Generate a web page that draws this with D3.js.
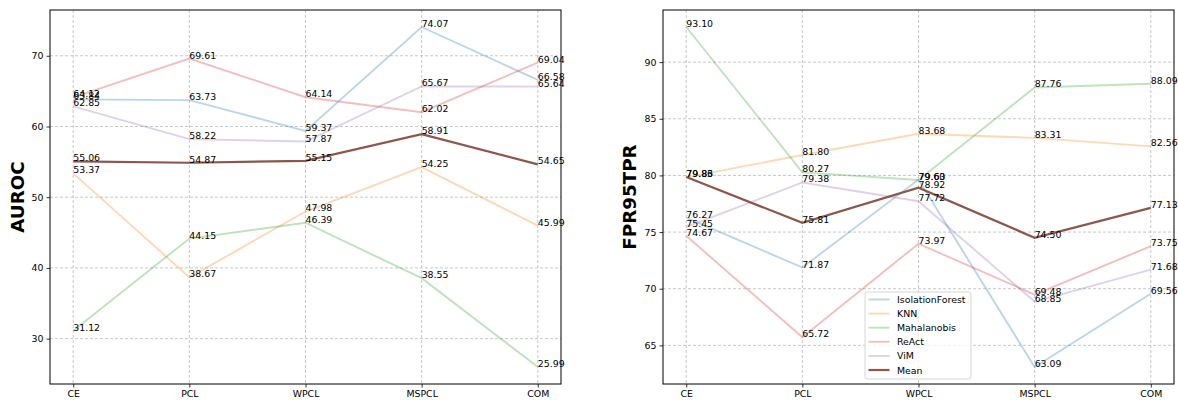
<!DOCTYPE html>
<html>
<head>
<meta charset="utf-8">
<script src="https://cdn.jsdelivr.net/npm/d3@7"></script>
<style>
  body { margin: 0; background: #fff; }
  svg { font-family: 'DejaVu Sans', sans-serif; }
</style>
</head>
<body>
<div id="chart"></div>
<script>
const methods = ['CE', 'PCL', 'WPCL', 'MSPCL', 'COM'];
const seriesNames = ['IsolationForest', 'KNN', 'Mahalanobis', 'ReAct', 'ViM', 'Mean'];
const colors = ['#1f77b4', '#ff7f0e', '#2ca02c', '#d62728', '#9467bd', '#8c564b'];

// AUROC
const aurocIsolationForest = [63.84, 63.73, 59.37, 74.07, 66.58];
const aurocKNN = [53.37, 38.67, 47.98, 54.25, 45.99];
const aurocMahalanobis = [31.12, 44.15, 46.39, 38.55, 25.99];
const aurocReAct = [64.12, 69.61, 64.14, 62.02, 69.04];
const aurocViM = [62.85, 58.22, 57.87, 65.67, 65.64];
const aurocMean = [55.06, 54.87, 55.15, 58.91, 54.65];
const aurocTicks = [30, 40, 50, 60, 70];

// FPR95TPR
const fprIsolationForest = [76.27, 71.87, 79.63, 63.09, 69.56];
const fprKNN = [79.83, 81.80, 83.68, 83.31, 82.56];
const fprMahalanobis = [93.10, 80.27, 79.60, 87.76, 88.09];
const fprReAct = [74.67, 65.72, 73.97, 69.48, 73.75];
const fprViM = [75.45, 79.38, 77.72, 68.85, 71.68];
const fprMean = [79.86, 75.81, 78.92, 74.50, 77.13];
const fprTicks = [65, 70, 75, 80, 85, 90];

const W = 1178, H = 400;
const svg = d3.select('#chart').append('svg').attr('width', W).attr('height', H);

const plotTop = 10, plotBottom = 384;

function panel(left, right, series, ticks, title, titleX, legend) {
  const all = series.flat();
  const lo = d3.min(all), hi = d3.max(all), pad = (hi - lo) * 0.05;
  const x = d3.scaleLinear().domain([-0.2, 4.2]).range([left, right]);
  const y = d3.scaleLinear().domain([lo - pad, hi + pad]).range([plotBottom, plotTop]);
  const g = svg.append('g');

  // grid
  g.selectAll('.gy').data(ticks).enter().append('line')
    .attr('x1', left).attr('x2', right)
    .attr('y1', d => y(d)).attr('y2', d => y(d))
    .attr('stroke', '#b0b0b0').attr('stroke-width', 0.7).attr('stroke-dasharray', '3,2');
  g.selectAll('.gx').data(methods).enter().append('line')
    .attr('x1', (d, i) => x(i)).attr('x2', (d, i) => x(i))
    .attr('y1', plotTop).attr('y2', plotBottom)
    .attr('stroke', '#b0b0b0').attr('stroke-width', 0.7).attr('stroke-dasharray', '3,2');

  // axes
  const ya = g.append('g').attr('transform', `translate(${left},0)`)
    .call(d3.axisLeft(y).tickValues(ticks).tickSize(3.5).tickPadding(3));
  const xa = g.append('g').attr('transform', `translate(0,${plotBottom})`)
    .call(d3.axisBottom(x).tickValues(d3.range(5)).tickFormat(i => methods[i]).tickSize(3.5).tickPadding(3));
  [ya, xa].forEach(a => {
    a.select('.domain').remove();
    a.selectAll('text').attr('font-size', 9.4).attr('fill', '#000').attr('font-family', 'DejaVu Sans');
    a.selectAll('line').attr('stroke', '#000').attr('stroke-width', 0.8);
  });

  // lines
  const line = d3.line().x((d, i) => x(i)).y(d => y(d));
  series.forEach((s, k) => {
    const mean = k === series.length - 1;
    g.append('path').datum(s).attr('d', line)
      .attr('fill', 'none').attr('stroke', colors[k])
      .attr('stroke-width', mean ? 2.2 : 1.9)
      .attr('stroke-opacity', mean ? 1 : 0.3);
  });
  // value labels
  series.forEach(s => {
    g.selectAll(null).data(s).enter().append('text')
      .attr('x', (d, i) => x(i)).attr('y', d => y(d))
      .attr('font-size', 9.4).attr('fill', '#000')
      .text(d => d.toFixed(2));
  });

  // frame
  g.append('rect').attr('x', left).attr('y', plotTop)
    .attr('width', right - left).attr('height', plotBottom - plotTop)
    .attr('fill', 'none').attr('stroke', '#000').attr('stroke-width', 1);

  // y title
  g.append('text')
    .attr('transform', `translate(${titleX},${(plotTop + plotBottom) / 2}) rotate(-90)`)
    .attr('text-anchor', 'middle').attr('dominant-baseline', 'central')
    .attr('font-size', 18.3).attr('font-weight', 'bold').attr('fill', '#000')
    .text(title);

  if (legend) {
    const lx = 865, ly = 292, lw = 106, lh = 87;
    const lg = g.append('g');
    lg.append('rect').attr('x', lx).attr('y', ly).attr('width', lw).attr('height', lh)
      .attr('rx', 2).attr('fill', '#fff').attr('fill-opacity', 0.8)
      .attr('stroke', '#ccc').attr('stroke-width', 0.8);
    seriesNames.forEach((n, k) => {
      const yy = ly + 7.5 + k * 14.1;
      const mean = k === seriesNames.length - 1;
      lg.append('line').attr('x1', lx + 3.5).attr('x2', lx + 24.5)
        .attr('y1', yy).attr('y2', yy)
        .attr('stroke', colors[k]).attr('stroke-width', mean ? 2.2 : 1.9)
        .attr('stroke-opacity', mean ? 1 : 0.3);
      lg.append('text').attr('x', lx + 32).attr('y', yy)
        .attr('dominant-baseline', 'central')
        .attr('font-size', 9.4).attr('fill', '#000').text(n);
    });
  }
}

panel(50, 561,
  [aurocIsolationForest, aurocKNN, aurocMahalanobis, aurocReAct, aurocViM, aurocMean],
  aurocTicks, 'AUROC', 17, false);
panel(663, 1174,
  [fprIsolationForest, fprKNN, fprMahalanobis, fprReAct, fprViM, fprMean],
  fprTicks, 'FPR95TPR', 629, true);
</script>
</body>
</html>
